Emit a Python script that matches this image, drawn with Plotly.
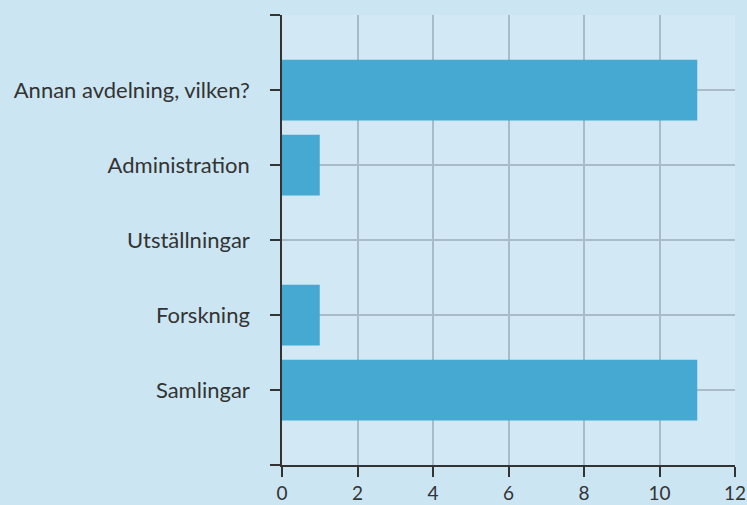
import plotly.graph_objects as go

categories = ["Samlingar", "Forskning", "Utställningar", "Administration", "Annan avdelning, vilken?"]
counts = [11, 1, 0, 1, 11]
x_ticks = [0, 2, 4, 6, 8, 10, 12]

positions = list(range(len(categories)))

fig = go.Figure()

fig.add_trace(go.Bar(
    x=counts,
    y=positions,
    orientation='h',
    width=0.81,
    marker=dict(color='#45a9d2', line=dict(width=0)),
    hoverinfo='x+text',
    text=categories,
    textposition='none',
))

fig.update_layout(
    width=747,
    height=505,
    margin=dict(l=282, r=12, t=15, b=40),
    paper_bgcolor='#cbe5f2',
    plot_bgcolor='#d2e8f4',
    font=dict(family='Lato, Noto Sans, sans-serif', size=22, color='#333333'),
    showlegend=False,
    xaxis=dict(
        range=[0, 12],
        tickvals=x_ticks,
        showgrid=True,
        gridcolor='#a9bac8',
        gridwidth=1.5,
        zeroline=False,
        showline=True,
        linecolor='#333333',
        linewidth=1.5,
        ticks='outside',
        ticklen=10,
        tickwidth=1.5,
        tickcolor='#333333',
        tickfont=dict(size=19),
        ticklabelstandoff=0,
        automargin=False,
    ),
    yaxis=dict(
        range=[-1, len(categories)],
        tickvals=[-1] + positions + [len(categories)],
        ticktext=[''] + categories + [''],
        showgrid=True,
        gridcolor='#a9bac8',
        gridwidth=1.5,
        zeroline=False,
        showline=True,
        linecolor='#333333',
        linewidth=1.5,
        ticks='outside',
        ticklen=10,
        tickwidth=1.5,
        tickcolor='#333333',
        ticklabelstandoff=16,
        automargin=False,
    ),
)

fig.write_html("out.html", config={'displayModeBar': False},
               post_script="document.body.style.margin='0';")
